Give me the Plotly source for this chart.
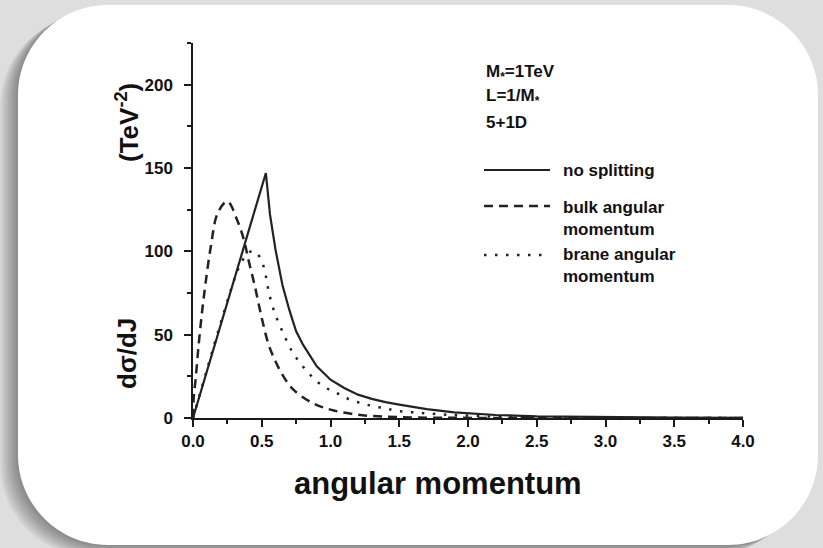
import plotly.graph_objects as go

# ---- data: differential cross section vs angular momentum J ----
j_nosplit = [0.0, 0.53, 0.56, 0.60, 0.65, 0.70, 0.75, 0.80, 0.90, 1.00, 1.10, 1.20,
             1.30, 1.40, 1.50, 1.70, 1.90, 2.20, 2.50, 3.00, 3.50, 4.00]
s_nosplit = [0.0, 147.0, 122.0, 101.0, 80.0, 65.0, 52.0, 44.0, 31.0, 23.0, 18.0, 14.0,
             11.5, 9.5, 8.0, 5.3, 3.4, 1.8, 1.0, 0.4, 0.2, 0.1]

j_bulk = [0.0, 0.005, 0.02, 0.04, 0.065, 0.09, 0.13, 0.18, 0.25, 0.32, 0.37, 0.40,
          0.45, 0.50, 0.55, 0.60, 0.65, 0.73, 0.87, 1.00, 1.15, 1.30, 1.50, 1.80,
          2.20, 3.00, 4.00]
s_bulk = [0.0, 12.0, 24.0, 43.0, 63.0, 80.0, 103.0, 123.0, 130.0, 119.0, 107.0, 96.0,
          79.0, 60.0, 44.0, 34.0, 26.0, 17.0, 9.0, 5.0, 2.5, 1.2, 0.5, 0.15,
          0.05, 0.0, 0.0]

j_brane = [0.0, 0.30, 0.35, 0.40, 0.45, 0.50, 0.53, 0.55, 0.59, 0.65, 0.72, 0.77,
           0.83, 0.90, 0.99, 1.07, 1.14, 1.23, 1.31, 1.40, 1.47, 1.63, 1.80, 1.97,
           2.20, 2.50, 3.00, 4.00]
s_brane = [0.0, 83.0, 93.0, 99.0, 100.0, 94.0, 85.0, 76.0, 64.0, 52.0, 40.0, 34.0,
           28.0, 22.0, 17.0, 14.0, 11.0, 8.8, 7.0, 5.8, 4.5, 3.2, 2.2, 1.5,
           0.8, 0.4, 0.1, 0.0]

x_ticks = [0.0, 0.5, 1.0, 1.5, 2.0, 2.5, 3.0, 3.5, 4.0]
y_ticks = [0, 50, 100, 150, 200]

params = ["M<sub>*</sub>=1TeV", "L=1/M<sub>*</sub>", "5+1D"]
legend_labels = ["no splitting", "bulk angular<br>momentum", "brane angular<br>momentum"]

# ---- page geometry (pixels) ----
FIG_W, FIG_H = 823, 548
L, T, R, B = 193, 43, 743, 418
W, H = R - L, B - T

INK = "#222222"
FONT = "Liberation Sans, Arial, sans-serif"
DASH = "9px,6px"
DOT = "2.5px,8.5px"


def px(x):
    return (x - L) / W


def py(y):
    return 1 - (y - T) / H


def rounded_rect(x0, y0, x1, y1, r):
    k = 0.5523 * r
    pts = [
        ("M", [(x0 + r, y0)]),
        ("L", [(x1 - r, y0)]),
        ("C", [(x1 - r + k, y0), (x1, y0 + r - k), (x1, y0 + r)]),
        ("L", [(x1, y1 - r)]),
        ("C", [(x1, y1 - r + k), (x1 - r + k, y1), (x1 - r, y1)]),
        ("L", [(x0 + r, y1)]),
        ("C", [(x0 + r - k, y1), (x0, y1 - r + k), (x0, y1 - r)]),
        ("L", [(x0, y0 + r)]),
        ("C", [(x0, y0 + r - k), (x0 + r - k, y0), (x0 + r, y0)]),
    ]
    out = []
    for cmd, ps in pts:
        out.append(cmd + " ".join(f"{px(a):.5f},{py(b):.5f}" for a, b in ps))
    return " ".join(out) + " Z"


fig = go.Figure()

fig.add_trace(go.Scatter(x=j_nosplit, y=s_nosplit, mode="lines",
                         line=dict(color=INK, width=2.2), showlegend=False))
fig.add_trace(go.Scatter(x=j_bulk, y=s_bulk, mode="lines", line_shape="spline",
                         line=dict(color=INK, width=2.5, dash=DASH), showlegend=False))
fig.add_trace(go.Scatter(x=j_brane, y=s_brane, mode="lines", line_shape="spline",
                         line=dict(color=INK, width=2.5, dash=DOT), showlegend=False))

shapes = []
# soft drop shadow toward the lower left, then the white card
for i in range(1, 8):
    shapes.append(dict(type="path", xref="paper", yref="paper", layer="below",
                       path=rounded_rect(18 - 2.5 * i, 5 + 1.5 * i, 818 - 2.5 * i, 545 + 1.5 * i, 90),
                       fillcolor="rgba(0,0,0,0.06)", line=dict(width=0)))
shapes.append(dict(type="path", xref="paper", yref="paper", layer="below",
                   path=rounded_rect(18, 5, 818, 545, 90),
                   fillcolor="white", line=dict(width=0)))

# legend samples
leg_y = [170, 206, 255]
leg_dash = ["solid", DASH, DOT]
leg_w = [2.2, 2.5, 2.5]
for yy, dd, ww in zip(leg_y, leg_dash, leg_w):
    shapes.append(dict(type="line", xref="paper", yref="paper",
                       x0=px(484), x1=px(550), y0=py(yy), y1=py(yy),
                       line=dict(color=INK, width=ww, dash=dd)))

annotations = []
for txt, yy in zip(params, [73, 97, 122]):
    annotations.append(dict(text=txt, x=px(484), y=py(yy), xref="paper", yref="paper",
                            xanchor="left", yanchor="middle", showarrow=False, align="left",
                            font=dict(family=FONT, size=17, color="#111", weight="bold")))
for txt, yy in zip(legend_labels, [170, 218, 265]):
    annotations.append(dict(text=txt, x=px(561), y=py(yy), xref="paper", yref="paper",
                            xanchor="left", yanchor="middle", showarrow=False, align="left",
                            font=dict(family=FONT, size=17, color="#111", weight="bold")))

# axis titles
annotations.append(dict(text="angular momentum", x=px(438), y=py(483), xref="paper", yref="paper",
                        xanchor="center", yanchor="middle", showarrow=False,
                        font=dict(family=FONT, size=31, color="#111", weight="bold")))
annotations.append(dict(text="dσ/dJ", x=px(127), y=py(354), xref="paper", yref="paper",
                        xanchor="center", yanchor="middle", showarrow=False, textangle=-90,
                        font=dict(family=FONT, size=26, color="#111", weight="bold")))
annotations.append(dict(text="(TeV<sup>-2</sup>)", x=px(127), y=py(123), xref="paper", yref="paper",
                        xanchor="center", yanchor="middle", showarrow=False, textangle=-90,
                        font=dict(family=FONT, size=26, color="#111", weight="bold")))

axis_common = dict(showline=True, linecolor="#1a1a1a", linewidth=1.5, mirror=False,
                   ticks="outside", ticklen=7, tickwidth=1.5, tickcolor="#1a1a1a",
                   showgrid=False, zeroline=False,
                   tickfont=dict(family=FONT, size=17, color="#111", weight="bold"))

fig.update_layout(
    width=FIG_W, height=FIG_H,
    margin=dict(l=L, r=FIG_W - R, t=T, b=FIG_H - B, pad=0),
    paper_bgcolor="#dedede", plot_bgcolor="rgba(0,0,0,0)",
    showlegend=False,
    shapes=shapes, annotations=annotations,
    xaxis=dict(range=[0, 4], tickvals=x_ticks, ticktext=[f"{v:.1f}" for v in x_ticks],
               minor=dict(dtick=0.25, ticks="outside", ticklen=4, tickwidth=1.5, tickcolor="#1a1a1a"),
               **axis_common),
    yaxis=dict(range=[0, 225], tickvals=y_ticks, ticklabelstandoff=8,
               minor=dict(dtick=25, ticks="outside", ticklen=4, tickwidth=1.5, tickcolor="#1a1a1a"),
               **axis_common),
)

fig.write_html("out.html")
